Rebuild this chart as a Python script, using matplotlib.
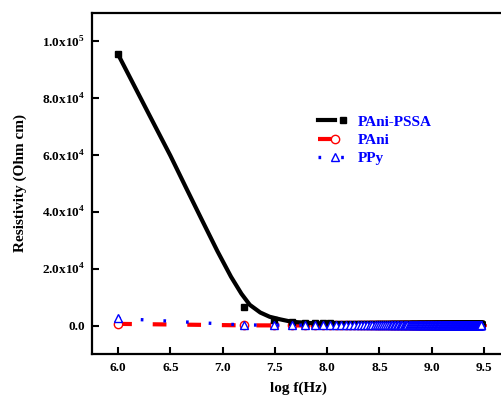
import numpy as np
import matplotlib
matplotlib.use("Agg")
import matplotlib.pyplot as plt
from matplotlib.legend_handler import HandlerTuple

plt.rcParams['font.family'] = ['Liberation Serif', 'DejaVu Serif']
plt.rcParams['font.weight'] = 'bold'
plt.rcParams['mathtext.fontset'] = 'custom'
plt.rcParams['mathtext.rm'] = 'Liberation Serif'

# frequency sweep of the measurement: 1 MHz to 3 GHz, 201 points
f_start_mhz = 1.0
f_stop_mhz = 3000.0
n_points = 201
log_f = np.log10(np.linspace(f_start_mhz, f_stop_mhz, n_points) * 1e6)

# resistivity (Ohm cm): first points, then flat tail
pssa_head = [95400, 6400, 2000, 1200, 950, 850, 800, 750]
pssa_tail = 700
pani_head = [600, 80, 50]
pani_tail = 40
ppy_head = [2500, 200, 160]
ppy_tail = 150

# smoothed curve drawn through the PAni-PSSA data
fit_x = [6.0, 6.3, 6.5, 6.65, 6.8, 6.95, 7.08, 7.18, 7.26, 7.36, 7.45, 7.55, 7.64, 7.71, 7.84, 8.0, 9.5]
fit_y = [95400, 74000, 59800, 48500, 37300, 26200, 17200, 11200, 7300, 4600, 3100, 2200, 1500, 1200, 900, 750, 700]

x_ticks = [6.0, 6.5, 7.0, 7.5, 8.0, 8.5, 9.0, 9.5]
y_ticks = [0, 20000, 40000, 60000, 80000, 100000]
y_tick_labels = ['0.0', '2.0x10$^{4}$', '4.0x10$^{4}$', '6.0x10$^{4}$', '8.0x10$^{4}$', '1.0x10$^{5}$']


def series(head, tail):
    return np.array(head + [tail] * (n_points - len(head)), dtype=float)


pssa = series(pssa_head, pssa_tail)
pani = series(pani_head, pani_tail)
ppy = series(ppy_head, ppy_tail)

fig = plt.figure(figsize=(5.01, 3.96), dpi=100)
ax = fig.add_axes([92 / 501, 42 / 396, 418 / 501, 341 / 396])

l_pani, = ax.plot(log_f, pani, color='red', lw=3, dashes=(3.3, 5),
                  marker='o', ms=6, mfc='white', mec='red', mew=1, zorder=2)
l_fit, = ax.plot(fit_x, fit_y, color='black', lw=3, zorder=3)
l_sq, = ax.plot(log_f, pssa, ls='none', marker='s', ms=5, color='black', zorder=3)
l_ppy, = ax.plot(log_f, ppy, color='blue', lw=2.4, dashes=(0.8, 6),
                 marker='^', ms=6, mfc='white', mec='blue', mew=1, zorder=4)

ax.set_xlim(5.75, 9.75)
ax.set_ylim(-10000, 110000)
ax.set_xticks(x_ticks)
ax.set_xticklabels([f'{t:.1f}' for t in x_ticks])
ax.set_yticks(y_ticks)
ax.set_yticklabels(y_tick_labels)

for s in ax.spines.values():
    s.set_linewidth(1.6)
ax.tick_params(direction='in', length=5, width=1.5, labelsize=9.5)
ax.tick_params(axis='x', pad=6)
ax.tick_params(axis='y', pad=5)

ax.set_xlabel('log f(Hz)', fontsize=11, fontweight='bold')
ax.set_ylabel('Resistivity (Ohm cm)', fontsize=11, fontweight='bold')
ax.xaxis.set_label_coords(0.495, -0.082)
ax.yaxis.set_label_coords(-0.155, 0.5)

leg = ax.legend([(l_fit, l_sq), l_pani, l_ppy], ['PAni-PSSA', 'PAni', 'PPy'],
                handler_map={tuple: HandlerTuple(ndivide=None)},
                loc='upper left', bbox_to_anchor=(318 / 501, 1 - 115 / 396),
                bbox_transform=fig.transFigure, frameon=False, numpoints=1,
                fontsize=11, labelcolor='blue', handlelength=2.2,
                handletextpad=0.4, labelspacing=0.3, borderpad=0, borderaxespad=0)
for t in leg.get_texts():
    t.set_fontweight('bold')

fig.savefig('out.png', dpi=100)
